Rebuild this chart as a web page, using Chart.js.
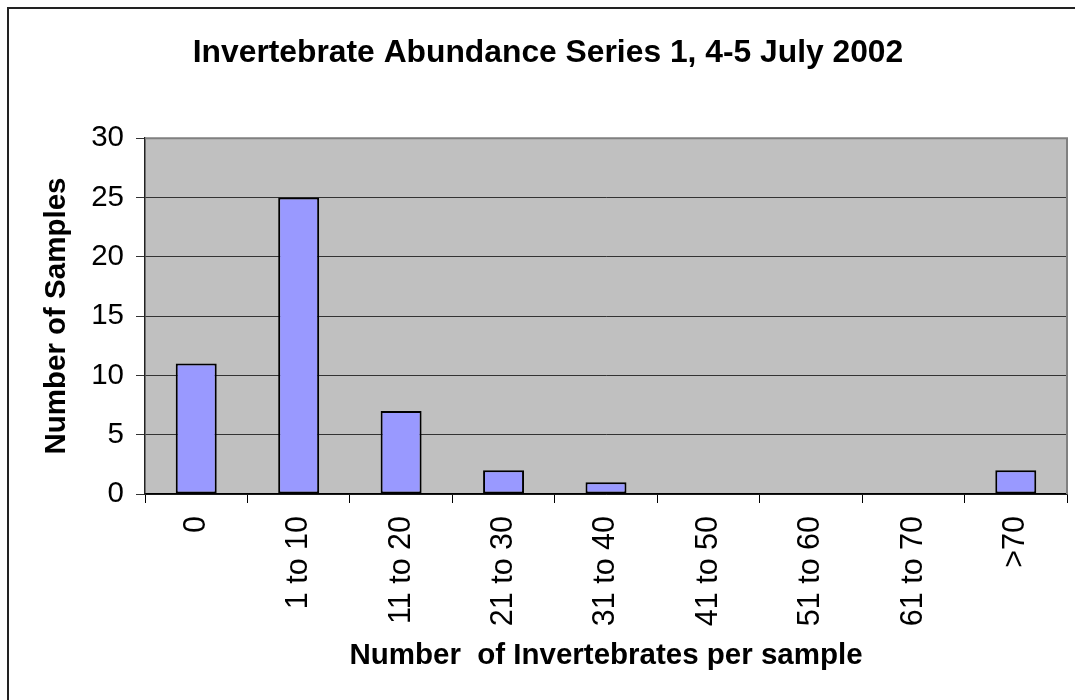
<!DOCTYPE html>
<html lang="en">
<head>
<meta charset="UTF-8">
<title>Invertebrate Abundance Series 1</title>
<script src="https://cdn.jsdelivr.net/npm/chart.js"></script>
<style>
  html, body { margin: 0; padding: 0; background: #fff; overflow: hidden; }
  /* outer chart frame, only top and left edges fall inside the window */
  #frame { position: absolute; left: 7px; top: 7px; width: 1200px; height: 800px;
           border-left: 2px solid #222; border-top: 2px solid #222; }
  #abundanceChart { position: absolute; left: 0; top: 0; }
</style>
</head>
<body>
<div id="frame"></div>
<canvas id="abundanceChart" width="1075" height="700"></canvas>
<script>
// number of samples falling in each invertebrate-count class
var classes = ['0', '1 to 10', '11 to 20', '21 to 30', '31 to 40', '41 to 50', '51 to 60', '61 to 70', '>70'];
var sampleCounts = [11, 25, 7, 2, 1, 0, 0, 0, 2];
var yTicks = [0, 5, 10, 15, 20, 25, 30];

var FONT = '"Liberation Sans", Arial, sans-serif';

// grey plot background plus the lighter frame on its top and right
var plotArea = {
    id: 'plotArea',
    beforeDraw: function (chart) {
        var a = chart.chartArea, ctx = chart.ctx;
        ctx.save();
        ctx.fillStyle = '#c0c0c0';
        ctx.fillRect(a.left, a.top, a.right - a.left, a.bottom - a.top);
        ctx.restore();
    },
    afterDraw: function (chart) {
        var a = chart.chartArea, ctx = chart.ctx;
        ctx.save();
        ctx.strokeStyle = '#808080';
        ctx.lineWidth = 2;
        ctx.beginPath();
        ctx.moveTo(a.left, a.top);
        ctx.lineTo(a.right, a.top);
        ctx.lineTo(a.right, a.bottom);
        ctx.stroke();
        ctx.restore();
    }
};

var ctx = document.getElementById('abundanceChart').getContext('2d');
var abundanceChart = new Chart(ctx, {
    type: 'bar',
    data: {
        labels: classes,
        datasets: [{
            label: 'Number of Samples',
            data: sampleCounts,
            backgroundColor: '#9999ff',
            borderColor: '#000',
            borderWidth: 2,
            borderSkipped: false,
            barPercentage: 0.4,
            categoryPercentage: 1
        }]
    },
    options: {
        responsive: false,
        animation: false,
        layout: { padding: { left: 29, right: 8, top: 0, bottom: 10 } },
        plugins: {
            legend: { display: false },
            tooltip: { enabled: false },
            title: {
                display: true,
                text: 'Invertebrate Abundance Series 1, 4-5 July 2002',
                color: '#000',
                font: { family: FONT, size: 31.8, weight: 'bold' },
                padding: { top: 34, bottom: 66 }
            }
        },
        scales: {
            x: {
                grid: { drawOnChartArea: false, tickLength: 9, color: '#000', offset: true },
                border: { color: '#000', width: 1.5 },
                ticks: {
                    color: '#000',
                    font: { family: FONT, size: 30.5 },
                    minRotation: 90,
                    maxRotation: 90,
                    padding: 13,
                    autoSkip: false
                },
                title: {
                    display: true,
                    text: 'Number  of Invertebrates per sample',
                    color: '#000',
                    font: { family: FONT, size: 29.5, weight: 'bold' },
                    padding: { top: 0, bottom: 16 }
                },
                afterFit: function (scale) { scale.height = 196; }
            },
            y: {
                min: yTicks[0],
                max: yTicks[yTicks.length - 1],
                ticks: {
                    stepSize: yTicks[1] - yTicks[0],
                    color: '#000',
                    font: { family: FONT, size: 29.5 },
                    padding: 12
                },
                grid: { color: '#333', tickLength: 9 },
                border: { color: '#222', width: 1.5 },
                title: {
                    display: true,
                    text: 'Number of Samples',
                    color: '#000',
                    font: { family: FONT, size: 29.5, weight: 'bold' },
                    padding: { top: 10, bottom: 0 }
                },
                afterFit: function (scale) { scale.width = 116; }
            }
        }
    },
    plugins: [plotArea]
});
</script>
</body>
</html>
